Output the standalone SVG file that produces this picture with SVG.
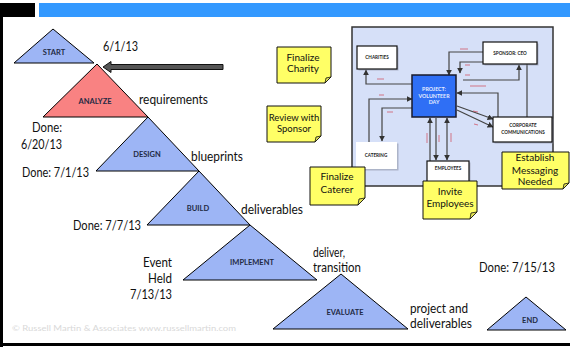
<svg xmlns="http://www.w3.org/2000/svg" width="570" height="351" viewBox="0 0 570 351">
  <style>
    .txt { font-family: Lato, "Open Sans", "Liberation Sans", sans-serif; fill: #111; }
    .lbl { font-size: 12.5px; }
    .phase { fill: #9db5f5; stroke: #000; stroke-width: 1; }
    .phase-hot { fill: #f98282; stroke: #000; stroke-width: 1; }
    .ptxt { font-family: Lato, "Open Sans", "Liberation Sans", sans-serif; font-weight: bold; font-size: 7.5px; fill: #1f2a44; text-anchor: middle; }
    .note { fill: #ffff66; stroke: #111; stroke-width: 1; }
    .fold { fill: #e6e655; stroke: #111; stroke-width: 0.8; }
    .ntxt { font-family: Lato, "Open Sans", "Liberation Sans", sans-serif; font-size: 10px; fill: #111; text-anchor: middle; }
    .box { fill: #fff; stroke: #111; stroke-width: 1.2; }
    .shadow { fill: #8a8fa0; opacity: 0.55; }
    .btxt { font-family: Lato, "Open Sans", "Liberation Sans", sans-serif; font-weight: bold; font-size: 4.6px; fill: #222; text-anchor: middle; }
    .wtxt { font-family: Lato, "Open Sans", "Liberation Sans", sans-serif; font-weight: bold; font-size: 5.3px; fill: #e4ecff; text-anchor: middle; }
    .conn { fill: none; stroke: #444; stroke-width: 1.2; }
    .tag { stroke: #d02030; stroke-width: 0.7; opacity: 0.8; }
  </style>
  <defs>
    <marker id="ah" viewBox="0 0 10 10" refX="9" refY="5" markerWidth="5" markerHeight="5" orient="auto-start-reverse">
      <path d="M0,0 L10,5 L0,10 z" fill="#333"/>
    </marker>
  </defs>

  <!-- frame -->
  <rect x="0" y="3" width="35" height="14" fill="#000"/>
  <rect x="39" y="3" width="531" height="14" fill="#3399ff"/>
  <rect x="0" y="3" width="3" height="344" fill="#000"/>
  <rect x="0" y="343" width="570" height="3" fill="#000"/>

  <!-- process phases -->
  <g id="start">
    <polygon class="phase" points="53,29 14,63 94,63"/>
    <text class="ptxt" x="54" y="55">START</text>
  </g>
  <g id="analyze">
    <polygon class="phase-hot" points="97,64 43,117 148,117"/>
    <text class="ptxt" x="95" y="104">ANALYZE</text>
  </g>
  <g id="design">
    <polygon class="phase" points="148,117 96,171 199,171"/>
    <text class="ptxt" x="147" y="157">DESIGN</text>
  </g>
  <g id="build">
    <polygon class="phase" points="199,171 147,225 250,225"/>
    <text class="ptxt" x="198" y="211">BUILD</text>
  </g>
  <g id="implement">
    <polygon class="phase" points="250,225 183,280 317,280"/>
    <text class="ptxt" x="252" y="265">IMPLEMENT</text>
  </g>
  <g id="evaluate">
    <polygon class="phase" points="341,274 273,329 408,329"/>
    <text class="ptxt" x="345" y="315">EVALUATE</text>
  </g>
  <g id="end">
    <polygon class="phase" points="526,297 487,330 566,330"/>
    <text class="ptxt" x="530" y="323">END</text>
  </g>

  <!-- start pointer -->
  <g id="pointer">
    <polygon points="103,67 111,61.5 111,64.5 223,64.5 223,69.5 111,69.5 111,72.5" fill="#555" stroke="#111" stroke-width="1"/>
  </g>

  <!-- phase labels -->
  <g class="txt lbl" lengthAdjust="spacingAndGlyphs">
    <text x="103" y="51" textLength="35" lengthAdjust="spacingAndGlyphs">6/1/13</text>
    <text x="139" y="104" textLength="69" lengthAdjust="spacingAndGlyphs">requirements</text>
    <text x="32" y="132" textLength="30" lengthAdjust="spacingAndGlyphs">Done:</text>
    <text x="21" y="149" textLength="41" lengthAdjust="spacingAndGlyphs">6/20/13</text>
    <text x="191" y="161" textLength="52" lengthAdjust="spacingAndGlyphs">blueprints</text>
    <text x="22" y="177" textLength="67" lengthAdjust="spacingAndGlyphs">Done: 7/1/13</text>
    <text x="241" y="214" textLength="62" lengthAdjust="spacingAndGlyphs">deliverables</text>
    <text x="73" y="230" textLength="68" lengthAdjust="spacingAndGlyphs">Done: 7/7/13</text>
    <text x="143" y="267" textLength="29" lengthAdjust="spacingAndGlyphs">Event</text>
    <text x="148" y="283" textLength="24" lengthAdjust="spacingAndGlyphs">Held</text>
    <text x="130" y="299" textLength="42" lengthAdjust="spacingAndGlyphs">7/13/13</text>
    <text x="313" y="257" textLength="32" lengthAdjust="spacingAndGlyphs">deliver,</text>
    <text x="313" y="272" textLength="48" lengthAdjust="spacingAndGlyphs">transition</text>
    <text x="410" y="313" textLength="58" lengthAdjust="spacingAndGlyphs">project and</text>
    <text x="410" y="328" textLength="62" lengthAdjust="spacingAndGlyphs">deliverables</text>
    <text x="479" y="272" textLength="76" lengthAdjust="spacingAndGlyphs">Done: 7/15/13</text>
  </g>
  <text x="12" y="331" font-family="Lato, 'Open Sans', 'Liberation Sans', sans-serif" font-size="8.3px" fill="#d9d9d9" textLength="224" lengthAdjust="spacingAndGlyphs">©  Russell Martin &amp; Associates www.russellmartin.com</text>

  <!-- stakeholder map -->
  <g id="map-panel">
    <rect x="352" y="27" width="201" height="159" fill="#d6e0f8" stroke="#333" stroke-width="1.5"/>
  </g>

  <g id="connectors">
    <path class="conn" d="M412,84 H366 V70" marker-end="url(#ah)"/>
    <path class="conn" d="M483,52 H449 V75" marker-end="url(#ah)"/>
    <path class="conn" d="M483,62 H460 V73" marker-end="url(#ah)"/>
    <path class="conn" d="M463,80 H519 V65" marker-end="url(#ah)"/>
    <path class="conn" d="M527,64 V117"/>
    <path class="conn" d="M498,117 V93 H457" marker-end="url(#ah)"/>
    <path class="conn" d="M457,106 L493,119" marker-end="url(#ah)"/>
    <path class="conn" d="M457,110 L493,127" marker-end="url(#ah)"/>
    <path class="conn" d="M369,142 V99 H412" marker-end="url(#ah)"/>
    <path class="conn" d="M412,108 H382 V141" marker-end="url(#ah)"/>
    <path class="conn" d="M430,161 V118" marker-end="url(#ah)"/>
    <path class="conn" d="M436,118 V160" marker-end="url(#ah)"/>
    <path class="conn" d="M447,118 V160" marker-start="url(#ah)" marker-end="url(#ah)"/>
    <!-- connector tags -->
    <g class="tag">
      <line x1="377" y1="79" x2="384" y2="79"/>
      <line x1="379" y1="95" x2="384" y2="95"/>
      <line x1="387" y1="112" x2="393" y2="112"/>
      <line x1="460" y1="49" x2="468" y2="49"/>
      <line x1="465" y1="65" x2="470" y2="65"/>
      <line x1="465" y1="75" x2="470" y2="75"/>
      <line x1="470" y1="86" x2="486" y2="86"/>
      <line x1="473" y1="111" x2="478" y2="112"/>
      <line x1="474" y1="124" x2="478" y2="125"/>
      <line x1="427" y1="133" x2="427" y2="143"/>
      <line x1="439" y1="135" x2="439" y2="142"/>
      <line x1="451" y1="133" x2="451" y2="142"/>
    </g>
  </g>

  <g id="charities">
    <rect class="shadow" x="358.5" y="47.5" width="40" height="23"/>
    <rect class="box" x="357" y="46" width="40" height="23"/>
    <text class="btxt" x="377" y="59">CHARITIES</text>
  </g>
  <g id="sponsor-ceo">
    <rect class="shadow" x="484.5" y="43.5" width="54" height="22"/>
    <rect class="box" x="483" y="42" width="54" height="22"/>
    <text class="btxt" x="510" y="55">SPONSOR: CEO</text>
  </g>
  <g id="project">
    <rect x="412" y="75" width="44" height="42" fill="#2f6ff5" stroke="#1a1a2a" stroke-width="1.5"/>
    <text class="wtxt" x="434" y="91">PROJECT:</text>
    <text class="wtxt" x="434" y="97.5">VOLUNTEER</text>
    <text class="wtxt" x="434" y="104">DAY</text>
  </g>
  <g id="corporate-communications">
    <rect class="shadow" x="494.5" y="118.5" width="59" height="25"/>
    <rect class="box" x="493" y="117" width="59" height="25"/>
    <text class="btxt" x="523" y="127">CORPORATE</text>
    <text class="btxt" x="523" y="134">COMMUNICATIONS</text>
  </g>
  <g id="catering">
    <rect class="shadow" x="357.5" y="143.5" width="41" height="27"/>
    <rect x="356" y="142" width="41" height="27" fill="#fff"/>
    <text class="btxt" x="376" y="157">CATERING</text>
  </g>
  <g id="employees">
    <rect class="shadow" x="428.5" y="162.5" width="42" height="21"/>
    <rect class="box" x="427" y="161" width="42" height="21"/>
    <text class="btxt" x="448" y="170">EMPLOYEES</text>
  </g>

  <!-- sticky notes -->
  <g id="note-finalize-charity">
    <path class="note" d="M277,47 H331 V77 L325,83 H277 Z"/>
    <path class="fold" d="M331,77 L325,83 L326,78 Z"/>
    <text class="ntxt" x="303" y="61">Finalize</text>
    <text class="ntxt" x="303" y="72">Charity</text>
  </g>
  <g id="note-review-sponsor">
    <path class="note" d="M267,106 H321 V136 L315,142 H267 Z"/>
    <path class="fold" d="M321,136 L315,142 L316,137 Z"/>
    <text class="ntxt" x="294" y="121" style="font-size:9.5px">Review with</text>
    <text class="ntxt" x="294" y="132" style="font-size:9.5px">Sponsor</text>
  </g>
  <g id="note-finalize-caterer">
    <path class="note" d="M310,167 H365 V198 L358,205 H310 Z"/>
    <path class="fold" d="M365,198 L358,205 L359,199 Z"/>
    <text class="ntxt" x="337" y="180">Finalize</text>
    <text class="ntxt" x="337" y="193">Caterer</text>
  </g>
  <g id="note-invite-employees">
    <path class="note" d="M423,181 H477 V212 L470,219 H423 Z"/>
    <path class="fold" d="M477,212 L470,219 L471,213 Z"/>
    <text class="ntxt" x="450" y="195">Invite</text>
    <text class="ntxt" x="450" y="207">Employees</text>
  </g>
  <g id="note-establish-messaging">
    <path class="note" d="M502,152 H569 V183 L563,189 H502 Z"/>
    <path class="fold" d="M569,183 L563,189 L564,184 Z"/>
    <text class="ntxt" x="535" y="161">Establish</text>
    <text class="ntxt" x="535" y="173.5">Messaging</text>
    <text class="ntxt" x="535" y="185">Needed</text>
  </g>
</svg>
